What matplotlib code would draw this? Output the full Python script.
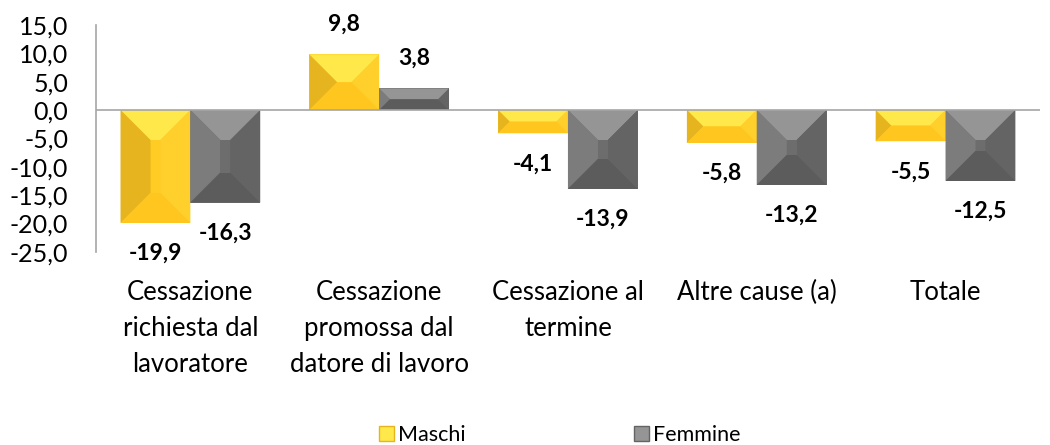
import matplotlib.pyplot as plt
from matplotlib.patches import Polygon, Patch

categories = [
    "Cessazione\nrichiesta dal\nlavoratore",
    "Cessazione\npromossa dal\ndatore di lavoro",
    "Cessazione al\ntermine",
    "Altre cause (a)",
    "Totale",
]
maschi = [-19.9, 9.8, -4.1, -5.8, -5.5]
femmine = [-16.3, 3.8, -13.9, -13.2, -12.5]
yticks = [15, 10, 5, 0, -5, -10, -15, -20, -25]

FONT = "Lato"
plt.rcParams["font.family"] = [FONT, "DejaVu Sans"]

# face colours for the bevel: centre, top, left, right, bottom
YELLOW = ["#FFCB25", "#FFE84A", "#E6B41F", "#FFCF2C", "#FFC61F"]
GREY = ["#6D6D6D", "#959595", "#7C7C7C", "#646464", "#5C5C5C"]


def fmt(v):
    return f"{v:.1f}".replace(".", ",")


def bevel(ax, bars, cols, depth=30):
    to_disp = ax.transData
    to_data = ax.transData.inverted()
    for b in bars:
        x0, y0 = b.get_x(), b.get_y()
        x1, y1 = x0 + b.get_width(), y0 + b.get_height()
        (px0, py0), (px1, py1) = to_disp.transform([(x0, min(y0, y1)), (x1, max(y0, y1))])
        d = min(depth, (px1 - px0) / 2, (py1 - py0) / 2)
        outer = [(px0, py1), (px1, py1), (px1, py0), (px0, py0)]
        inner = [(px0 + d, py1 - d), (px1 - d, py1 - d), (px1 - d, py0 + d), (px0 + d, py0 + d)]
        faces = [
            (outer[0], outer[1], inner[1], inner[0], cols[1]),  # top
            (outer[3], outer[0], inner[0], inner[3], cols[2]),  # left
            (outer[1], outer[2], inner[2], inner[1], cols[3]),  # right
            (outer[2], outer[3], inner[3], inner[2], cols[4]),  # bottom
        ]
        for *pts, c in faces:
            ax.add_patch(Polygon(to_data.transform(pts), closed=True, facecolor=c,
                                 edgecolor="none", zorder=3))
        ax.add_patch(Polygon(to_data.transform(inner), closed=True, facecolor=cols[0],
                             edgecolor="none", zorder=3))


fig = plt.figure(figsize=(10.5, 4.45), dpi=100)
ax = fig.add_axes([0.0914, 0.434, 0.899, 0.510])

x = list(range(len(categories)))
w = 0.37
ax.set_xlim(-0.5, len(categories) - 0.5)
ax.set_ylim(-25, 15)

b1 = ax.bar([i - w / 2 for i in x], maschi, width=w, color=YELLOW[0], zorder=2)
b2 = ax.bar([i + w / 2 for i in x], femmine, width=w, color=GREY[0], zorder=2)
bevel(ax, b1, YELLOW)
bevel(ax, b2, GREY)

for bars, vals in [(b1, maschi), (b2, femmine)]:
    for b, v in zip(bars, vals):
        ax.annotate(fmt(v), (b.get_x() + b.get_width() / 2, v),
                    xytext=(0, 22 if v > 0 else -22), textcoords="offset points",
                    ha="center", va="center", fontsize=16.5, fontweight="bold")

ax.axhline(0, color="#A6A6A6", lw=1.2, zorder=4)
for s in ["top", "right", "bottom"]:
    ax.spines[s].set_visible(False)
ax.spines["left"].set_color("#A6A6A6")
ax.spines["left"].set_linewidth(1.2)

ax.set_yticks(yticks)
ax.set_yticklabels([fmt(t) for t in yticks], fontsize=18)
ax.tick_params(axis="y", length=0, pad=20)
ax.set_xticks(x)
ax.set_xticklabels(categories, fontsize=18.5, linespacing=1.55)
ax.tick_params(axis="x", length=0, pad=20)

handles = [Patch(facecolor=YELLOW[1], edgecolor=YELLOW[2]),
           Patch(facecolor=GREY[1], edgecolor=GREY[3])]
fig.legend(handles, ["Maschi", "Femmine"], loc="center", bbox_to_anchor=(0.533, 0.022),
           ncol=2, frameon=False, fontsize=15.5, handlelength=0.7, handleheight=0.7,
           handletextpad=0.2, columnspacing=7.8)

plt.savefig("out.png", dpi=100)
plt.close()
